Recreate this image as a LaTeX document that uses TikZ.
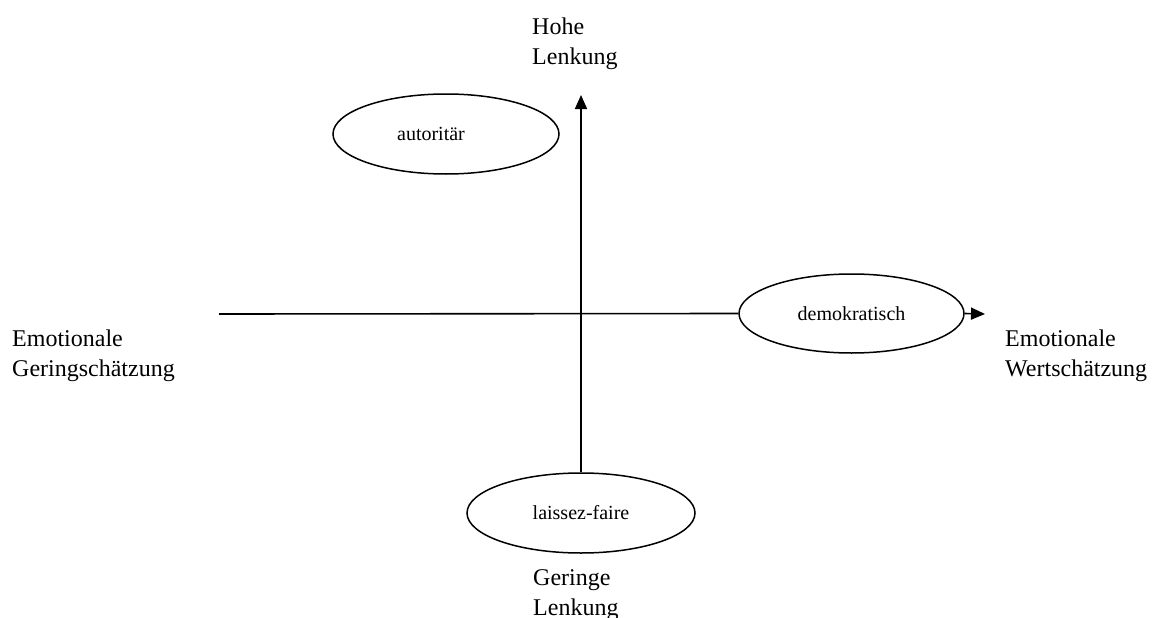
\documentclass[tikz,border=0pt]{standalone}
\usepackage{fontspec}
\setmainfont{Liberation Serif}
\usetikzlibrary{arrows.meta,shapes.geometric}

\tikzset{
  axis/.style={line width=1.6pt, draw=black},
  axisarrow/.style={axis, -{Triangle[length=14pt,width=12pt]}},
  stylebox/.style={ellipse, draw=black, line width=1.5pt, inner sep=0pt,
    font=\fontsize{20}{24}\selectfont},
  polelabel/.style={anchor=base west, align=left, inner sep=0pt,
    font=\fontsize{24}{30}\selectfont}
}

\begin{document}
\begin{tikzpicture}[x=1pt, y=-1pt]
  \useasboundingbox (0,0) rectangle (1156,618);

  % leadership styles (the first label sits a little left of centre)
  \node[stylebox, minimum width=226pt, minimum height=80pt] (auto) at (446,134) {autoritär\hspace*{30pt}};
  \node[stylebox, minimum width=225pt, minimum height=79pt] (demo) at (851.5,313.5) {demokratisch};
  \node[stylebox, minimum width=228pt, minimum height=80pt] (laissez) at (581,513) {laissez-faire};

  % axis ends
  \coordinate (left) at (219,314);
  \coordinate (right) at (985,314);
  \coordinate (top) at (581,95);

  % axes
  \draw[axis] (left) -- (demo.west);
  \draw[axisarrow] (demo.east) -- (right);
  \draw[axisarrow] (laissez.north) -- (top);

  % pole labels (anchored at the baseline of their last line)
  \node[polelabel] (high) at (532,64) {Hohe\\Lenkung};
  \node[polelabel] (low) at (533,615) {Geringe\\Lenkung};
  \node[polelabel] (neg) at (12,376) {Emotionale\\Geringschätzung};
  \node[polelabel] (pos) at (1005,376) {Emotionale\\Wertschätzung};
\end{tikzpicture}
\end{document}
